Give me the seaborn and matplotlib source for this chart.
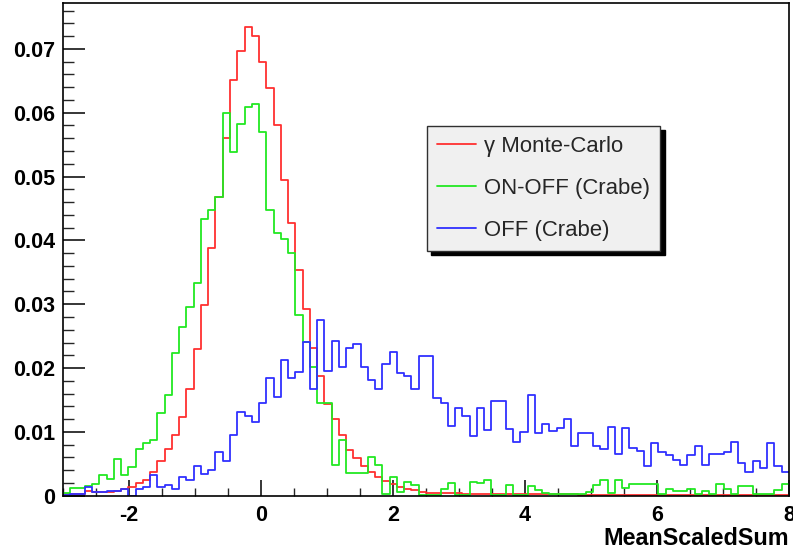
import numpy as np
import pandas as pd
import matplotlib
matplotlib.use("Agg")
import matplotlib.pyplot as plt
import seaborn as sns
from matplotlib.ticker import MultipleLocator
from matplotlib.lines import Line2D

# ---- data (100 bins from -3 to 8) ----
x_range = (-3.0, 8.0)
n_bins = 100

gamma_mc = [
    0.0003, 0.0003, 0.0003, 0.0008, 0.0006, 0.0006, 0.0006, 0.0007, 0.0010, 0.0013,
    0.0020, 0.0025, 0.0038, 0.0055, 0.0073, 0.0095, 0.0124, 0.0168, 0.0230, 0.0299,
    0.0388, 0.0468, 0.0560, 0.0651, 0.0696, 0.0735, 0.0720, 0.0680, 0.0638, 0.0581,
    0.0495, 0.0428, 0.0354, 0.0293, 0.0231, 0.0188, 0.0144, 0.0120, 0.0096, 0.0072,
    0.0059, 0.0047, 0.0038, 0.0029, 0.0023, 0.0018, 0.0014, 0.0010, 0.0009, 0.0006,
    0.0005, 0.0005, 0.0004, 0.0004, 0.0004, 0.0003, 0.0003, 0.0003, 0.0003, 0.0003,
    0.0003, 0.0003, 0.0003, 0.0003, 0.0003, 0.0003, 0.0003, 0.0003, 0.0003, 0.0003,
    0.0003, 0.0002, 0.0002, 0.0002, 0.0002, 0.0002, 0.0002, 0.0002, 0.0002, 0.0002,
    0.0002, 0.0002, 0.0002, 0.0002, 0.0002, 0.0002, 0.0001, 0.0001, 0.0001, 0.0001,
    0.0001, 0.0001, 0.0001, 0.0001, 0.0001, 0.0001, 0.0001, 0.0001, 0.0001, 0.0001,
]

on_off = [
    0.0005, 0.0012, 0.0012, 0.0015, 0.0018, 0.0033, 0.0026, 0.0057, 0.0033, 0.0045,
    0.0074, 0.0082, 0.0087, 0.0130, 0.0158, 0.0223, 0.0265, 0.0295, 0.0333, 0.0433,
    0.0447, 0.0468, 0.0599, 0.0539, 0.0582, 0.0609, 0.0614, 0.0569, 0.0447, 0.0411,
    0.0402, 0.0381, 0.0283, 0.0241, 0.0202, 0.0145, 0.0145, 0.0048, 0.0087, 0.0035,
    0.0035, 0.0035, 0.0061, 0.0048, 0.0003, 0.0030, 0.0006, 0.0022, 0.0017, 0.0001,
    0.0001, 0.0001, 0.0010, 0.0020, 0.0001, 0.0001, 0.0022, 0.0020, 0.0025, 0.0001,
    0.0001, 0.0017, 0.0001, 0.0001, 0.0015, 0.0009, 0.0004, 0.0003, 0.0003, 0.0003,
    0.0003, 0.0003, 0.0006, 0.0017, 0.0024, 0.0004, 0.0025, 0.0012, 0.0018, 0.0018,
    0.0018, 0.0018, 0.0003, 0.0010, 0.0008, 0.0008, 0.0010, 0.0003, 0.0008, 0.0003,
    0.0018, 0.0010, 0.0003, 0.0015, 0.0015, 0.0003, 0.0003, 0.0003, 0.0009, 0.0018,
]

off = [
    0.0001, 0.0003, 0.0003, 0.0014, 0.0006, 0.0006, 0.0008, 0.0008, 0.0010, 0.0000,
    0.0010, 0.0014, 0.0032, 0.0014, 0.0017, 0.0010, 0.0030, 0.0025, 0.0047, 0.0034,
    0.0041, 0.0068, 0.0055, 0.0095, 0.0132, 0.0125, 0.0115, 0.0145, 0.0184, 0.0154,
    0.0213, 0.0185, 0.0194, 0.0241, 0.0168, 0.0275, 0.0195, 0.0243, 0.0202, 0.0232,
    0.0237, 0.0202, 0.0181, 0.0168, 0.0206, 0.0225, 0.0193, 0.0188, 0.0168, 0.0219,
    0.0219, 0.0153, 0.0146, 0.0109, 0.0138, 0.0125, 0.0093, 0.0138, 0.0103, 0.0149,
    0.0149, 0.0104, 0.0085, 0.0100, 0.0158, 0.0098, 0.0112, 0.0102, 0.0106, 0.0120,
    0.0078, 0.0099, 0.0099, 0.0078, 0.0074, 0.0108, 0.0065, 0.0106, 0.0075, 0.0070,
    0.0046, 0.0082, 0.0068, 0.0064, 0.0056, 0.0048, 0.0064, 0.0078, 0.0048, 0.0065,
    0.0065, 0.0068, 0.0085, 0.0051, 0.0038, 0.0055, 0.0043, 0.0082, 0.0046, 0.0038,
]

series_labels = ["\u03b3 Monte-Carlo", "ON-OFF (Crabe)", "OFF (Crabe)"]
series_colors = ["#ff3030", "#22e822", "#3030ff"]

y_ticks = [0.0, 0.01, 0.02, 0.03, 0.04, 0.05, 0.06, 0.07]
y_tick_labels = ["0", "0.01", "0.02", "0.03", "0.04", "0.05", "0.06", "0.07"]
x_ticks = [-2, 0, 2, 4, 6, 8]
x_tick_labels = ["-2", "0", "2", "4", "6", "8"]
x_label = "MeanScaledSum"

# ---- style ----
sns.set_theme(style="ticks")
plt.rcParams["font.family"] = ["Liberation Sans", "DejaVu Sans"]

edges = np.linspace(x_range[0], x_range[1], n_bins + 1)
centers = (edges[:-1] + edges[1:]) / 2

frames = []
for lab, vals in zip(series_labels, [gamma_mc, on_off, off]):
    frames.append(pd.DataFrame({"x": centers, "w": vals, "series": lab}))
df = pd.concat(frames, ignore_index=True)

W, H = 793, 550
fig = plt.figure(figsize=(W / 100, H / 100), dpi=100)
fig.patch.set_facecolor("white")
ax_left, ax_right, ax_top, ax_zero = 63, 789, 3, 495.8
ax = fig.add_axes([ax_left / W, (H - ax_zero) / H,
                   (ax_right - ax_left) / W, (ax_zero - ax_top) / H])
ax.set_facecolor("white")

for lab, col in zip(series_labels, series_colors):
    sub = df[df["series"] == lab]
    sns.histplot(data=sub, x="x", weights="w", bins=n_bins, binrange=x_range,
                 element="step", fill=False, color=col, linewidth=1.3, ax=ax)

ax.set_xlim(x_range)
ax.set_ylim(0, (ax_zero - ax_top) / 6385.0)

ax.set_xticks(x_ticks, labels=x_tick_labels)
ax.set_yticks(y_ticks, labels=y_tick_labels)
ax.xaxis.set_minor_locator(MultipleLocator(0.5))
ax.yaxis.set_minor_locator(MultipleLocator(0.002))

ax.tick_params(axis="y", which="major", direction="in", length=15.5, width=1.1,
               pad=5.5, labelsize=15.5, colors="black")
ax.tick_params(axis="y", which="minor", direction="in", length=7.8, width=1.0)
ax.tick_params(axis="x", which="major", direction="in", length=11.5, width=1.1,
               pad=6.5, labelsize=15.5, colors="black")
ax.tick_params(axis="x", which="minor", direction="in", length=5.8, width=1.0)
for t in ax.get_xticklabels() + ax.get_yticklabels():
    t.set_fontweight("bold")

ax.set_ylabel("")
ax.set_xlabel(x_label, loc="right", fontsize=16.8, fontweight="bold",
              labelpad=0.5, color="black")

for s in ax.spines.values():
    s.set_visible(True)
    s.set_color("black")
    s.set_linewidth(1.2)

handles = [Line2D([0], [0], color=c, lw=1.3) for c in series_colors]
leg = ax.legend(handles, series_labels, loc="upper left",
                bbox_to_anchor=(427 / W, 1 - 126 / H), bbox_transform=fig.transFigure,
                borderaxespad=0, frameon=True, fancybox=False,
                shadow={"ox": 3.2, "oy": -3.2, "color": "black", "alpha": 1},
                prop={"family": "Liberation Sans", "size": 15.9},
                handlelength=1.75, handletextpad=0.4, borderpad=0.45,
                labelspacing=0.95, edgecolor="#303030", facecolor="#f0f0f0",
                framealpha=1)
leg.get_frame().set_linewidth(1.0)

fig.savefig("out.png", dpi=100, facecolor="white")
